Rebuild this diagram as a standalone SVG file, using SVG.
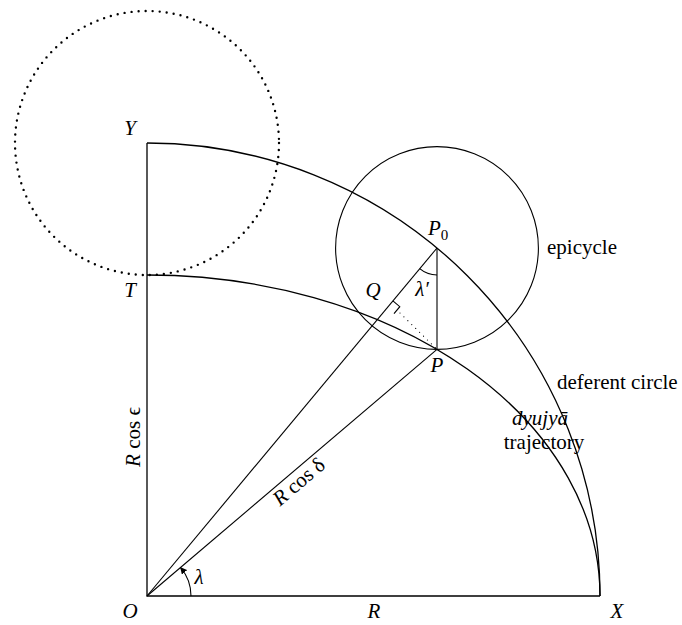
<svg xmlns="http://www.w3.org/2000/svg" width="682" height="625" viewBox="0 0 682 625">
<style>
.ln{fill:none;stroke:#000;stroke-width:1.3}
.th{fill:none;stroke:#000;stroke-width:1.1}
text{font-family:"Liberation Serif","Times New Roman",serif;font-size:21px;fill:#000}
.it{font-style:italic}
</style>
<defs>
<marker id="ah" viewBox="0 0 10 10" refX="9" refY="5" markerWidth="7" markerHeight="7" markerUnits="userSpaceOnUse" orient="auto">
<path d="M0,0 L10,5 L0,10 z" fill="#000"/>
</marker>
</defs>
<rect width="682" height="625" fill="#fff"/>
<g id="connectors">
<path class="ln" d="M147,143 L147,596 L600,596"/>
<path id="deferent" class="ln" d="M147,143 A453,453 0 0 1 600,596"/>
<path id="trajectory" class="ln" d="M147,275 A453,321 0 0 1 600,596"/>
<circle id="epicycle" class="th" cx="437" cy="248" r="101.4"/>
<circle id="dotted" cx="147" cy="143" r="132" fill="none" stroke="#000" stroke-width="2.4" stroke-linecap="round" stroke-dasharray="0 7.05"/>
<path class="th" d="M147,596 L437,248"/>
<path class="th" d="M147,596 L437,349.4"/>
<path class="th" d="M437,248 L437,349.4"/>
<path class="th" d="M392.9,300.9 L399.8,306.7 L394,313.6"/>
<path fill="none" stroke="#000" stroke-width="1.2" stroke-linecap="round" stroke-dasharray="0 5.5" d="M400,313 L437,349.4"/>
<path class="th" d="M191,596 A44,44 0 0 0 180.5,567.5" marker-end="url(#ah)"/>
<path class="th" d="M419.7,268.7 A27,27 0 0 0 437,275"/>
</g>
<g id="labels">
<text class="it" x="130" y="135" text-anchor="middle">Y</text>
<text class="it" x="130" y="297" text-anchor="middle">T</text>
<text class="it" x="130" y="618" text-anchor="middle">O</text>
<text class="it" x="374" y="618" text-anchor="middle">R</text>
<text class="it" x="617" y="618" text-anchor="middle">X</text>
<text class="it" x="199" y="584" text-anchor="middle">λ</text>
<text x="428" y="235"><tspan class="it">P</tspan><tspan font-size="15" dy="5">0</tspan></text>
<text class="it" x="373" y="297" text-anchor="middle">Q</text>
<text class="it" x="422" y="296" text-anchor="middle">λ′</text>
<text class="it" x="437" y="372" text-anchor="middle">P</text>
<text x="547" y="254">epicycle</text>
<text x="557" y="389">deferent circle</text>
<text class="it" x="540" y="425" text-anchor="middle">dyujyā</text>
<text x="544" y="449" text-anchor="middle">trajectory</text>
<text transform="translate(140,437) rotate(-90)" text-anchor="middle"><tspan class="it">R</tspan> cos ϵ</text>
<text transform="translate(291.6,473.1) rotate(-40.4)" y="18" text-anchor="middle"><tspan class="it">R</tspan> cos δ</text>
</g>
</svg>
